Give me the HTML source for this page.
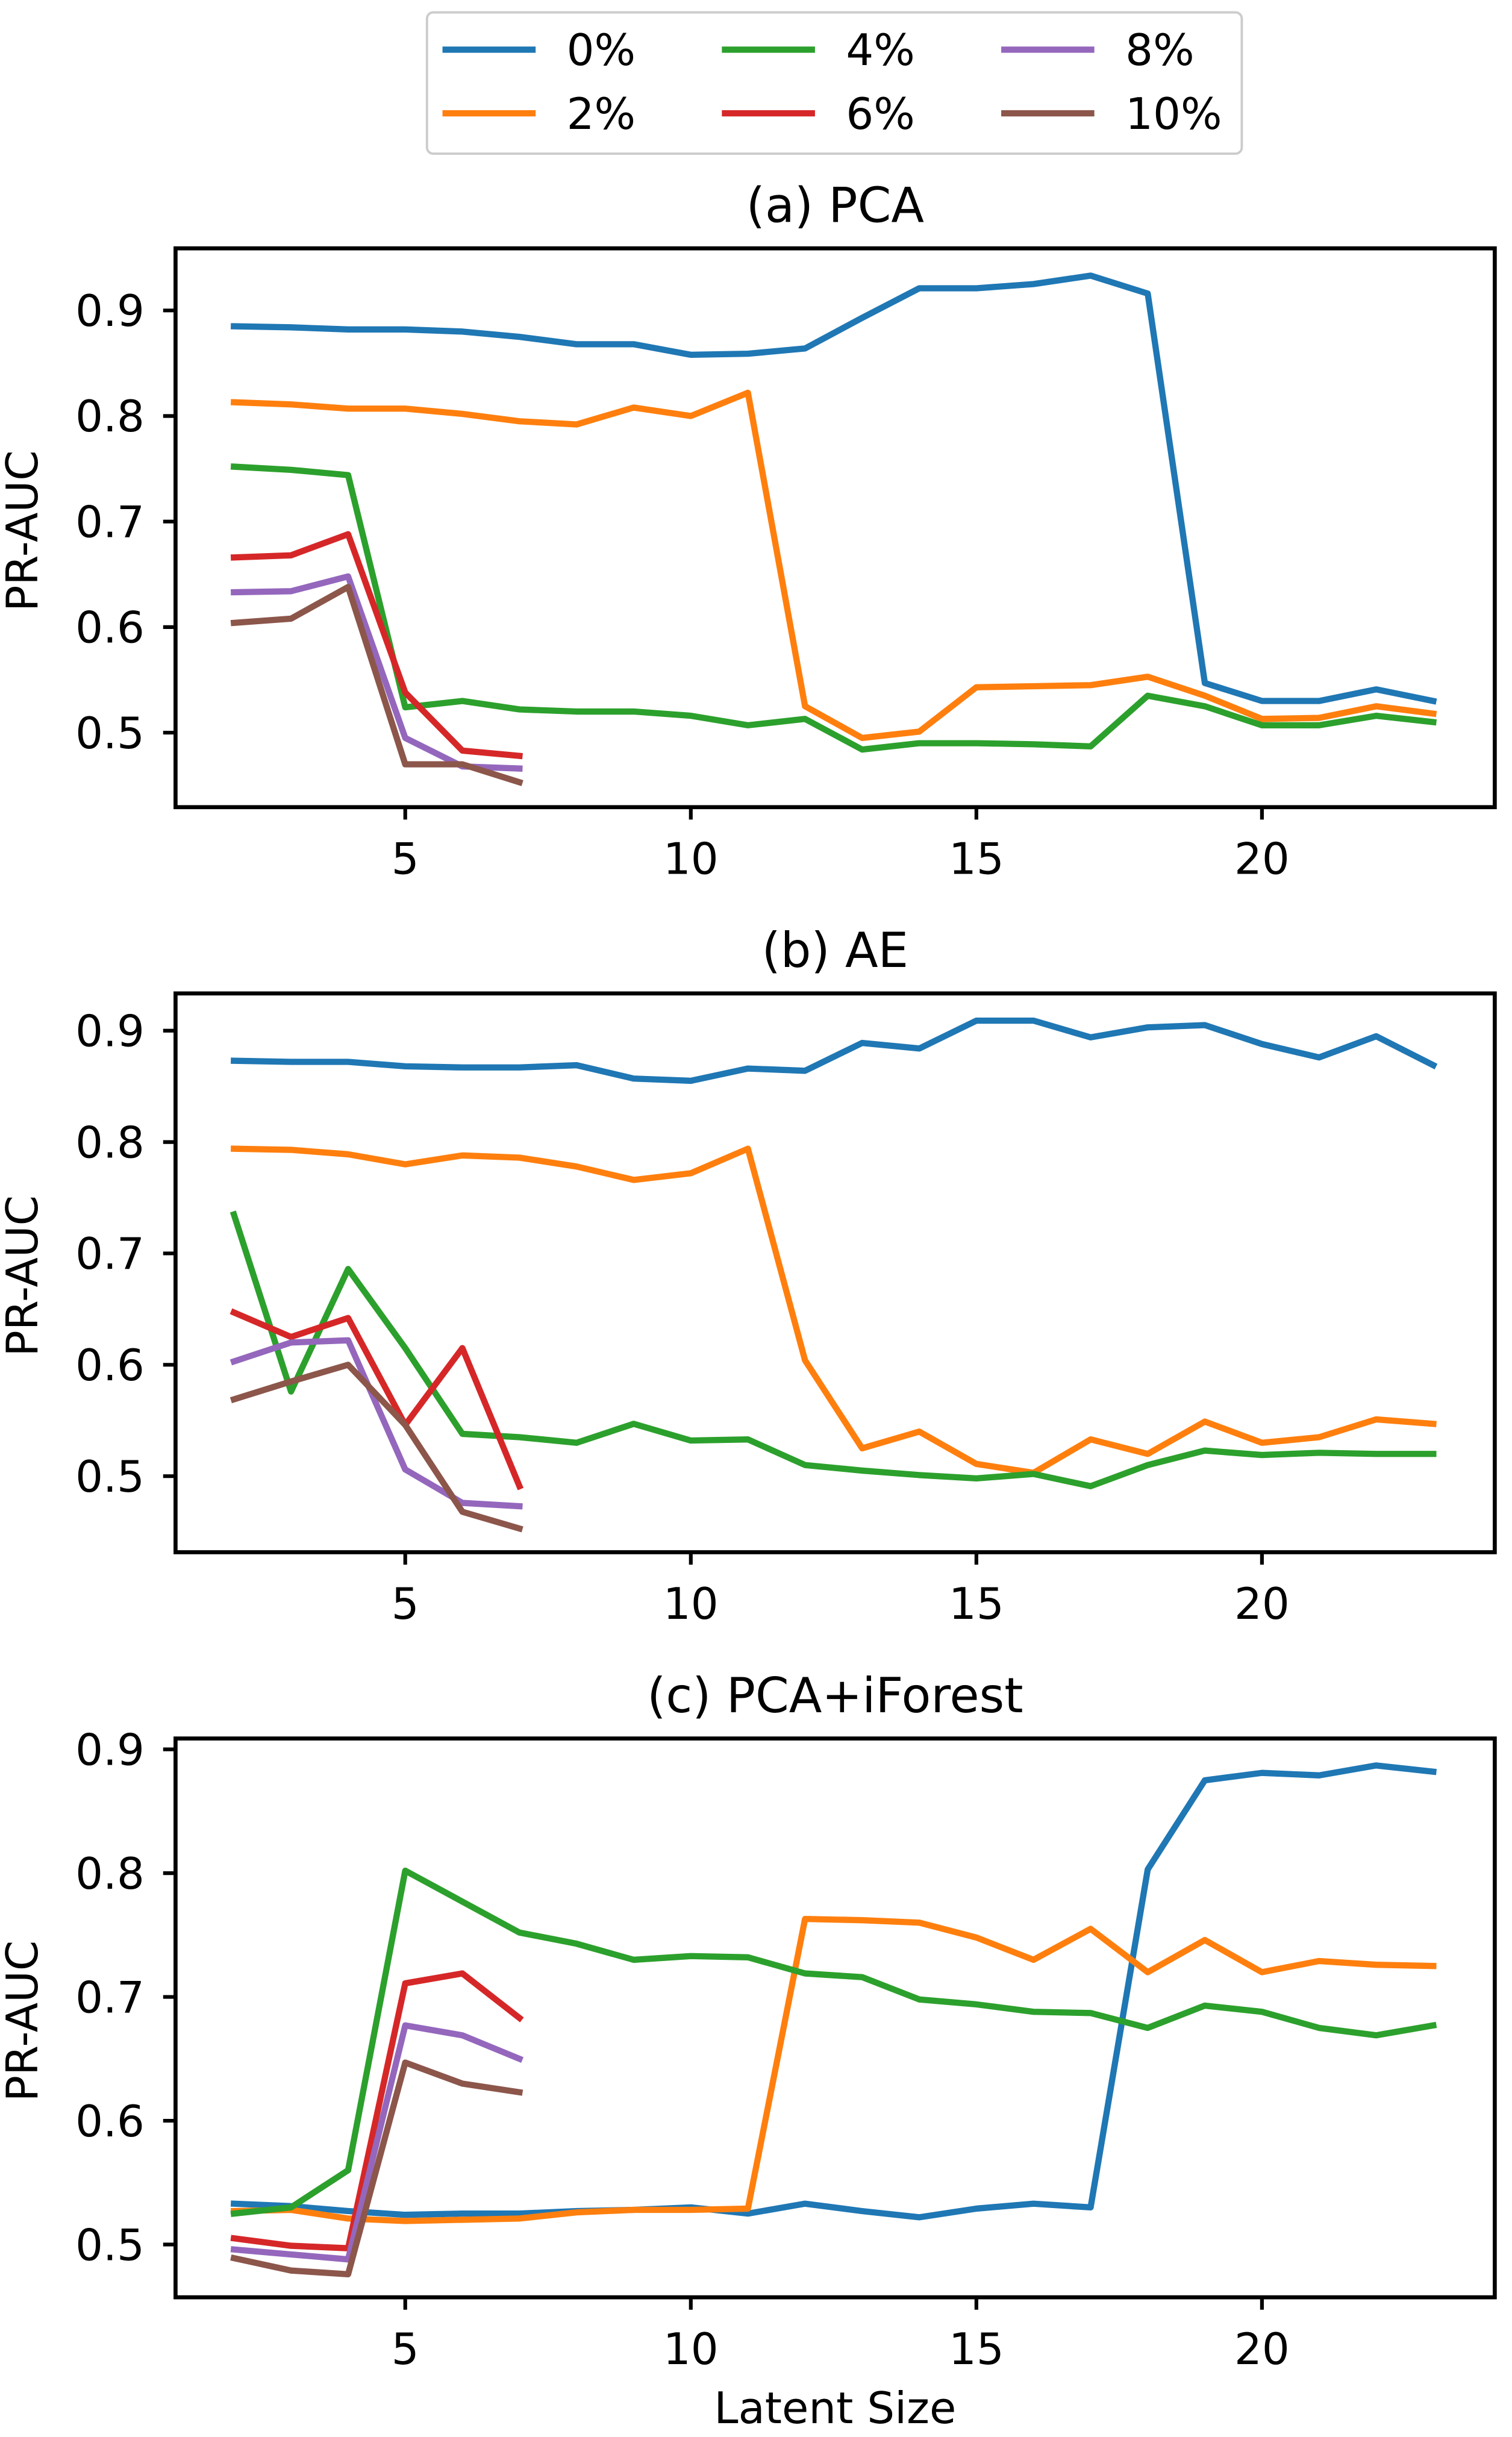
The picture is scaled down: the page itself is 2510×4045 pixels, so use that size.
<!DOCTYPE html>
<html><head><meta charset="utf-8"><style>html,body{margin:0;padding:0;background:#fff}svg{display:block}text{font-family:"DejaVu Sans","Liberation Sans",sans-serif;fill:#000}</style></head>
<body>
<svg id="chart" width="2510" height="4045" viewBox="0 0 974 1570" xmlns="http://www.w3.org/2000/svg"></svg>
<script>
const latentSizes=[2,3,4,5,6,7,8,9,10,11,12,13,14,15,16,17,18,19,20,21,22,23];
const seriesLabels=["0%","2%","4%","6%","8%","10%"];
const xTicks=[5,10,15,20];
const yTicks=[0.5,0.6,0.7,0.8,0.9];
const yTickLabels=["0.5","0.6","0.7","0.8","0.9"];
const pca0=[.885,.884,.882,.882,.880,.875,.868,.868,.858,.859,.864,.893,.921,.921,.925,.933,.916,.547,.530,.530,.541,.530];
const pca2=[.813,.811,.807,.807,.802,.795,.792,.808,.800,.822,.525,.495,.501,.543,.544,.545,.553,.535,.513,.514,.525,.518];
const pca4=[.752,.749,.744,.524,.530,.522,.520,.520,.516,.507,.513,.484,.490,.490,.489,.487,.535,.525,.507,.507,.516,.510];
const pca6=[.666,.668,.688,.538,.483,.478];
const pca8=[.633,.634,.648,.495,.468,.466];
const pca10=[.604,.608,.638,.470,.470,.453];
const ae0=[.873,.872,.872,.868,.867,.867,.869,.857,.855,.866,.864,.889,.884,.909,.909,.894,.903,.905,.888,.876,.895,.869];
const ae2=[.794,.793,.789,.780,.788,.786,.778,.766,.772,.794,.604,.525,.540,.511,.503,.533,.520,.549,.530,.535,.551,.547];
const ae4=[.735,.576,.686,.615,.538,.535,.530,.547,.532,.533,.510,.505,.501,.498,.502,.491,.510,.523,.519,.521,.520,.520];
const ae6=[.647,.625,.642,.546,.615,.491];
const ae8=[.603,.620,.622,.506,.476,.473];
const ae10=[.569,.585,.600,.546,.468,.453];
const pif0=[.533,.531,.527,.524,.525,.525,.527,.528,.530,.525,.533,.527,.522,.529,.533,.530,.803,.875,.881,.879,.887,.882];
const pif2=[.527,.528,.521,.519,.520,.521,.526,.528,.528,.529,.763,.762,.760,.748,.730,.755,.720,.746,.720,.729,.726,.725];
const pif4=[.525,.530,.560,.802,.777,.752,.743,.730,.733,.732,.719,.716,.698,.694,.688,.687,.675,.693,.688,.675,.669,.677];
const pif6=[.505,.499,.497,.711,.719,.683];
const pif8=[.496,.492,.488,.677,.669,.650];
const pif10=[.489,.479,.476,.647,.630,.623];

const colors=["#1f77b4","#ff7f0e","#2ca02c","#d62728","#9467bd","#8c564b"];
const NS="http://www.w3.org/2000/svg";
const svg=document.getElementById('chart');
function mk(tag,attrs,parent){const e=document.createElementNS(NS,tag);for(const k in attrs)e.setAttribute(k,attrs[k]);(parent||svg).appendChild(e);return e;}

const panels=[
 {title:"(a) PCA",key:"a",top:160,bottom:520,y9:200,y5:472,data:[pca0,pca2,pca4,pca6,pca8,pca10]},
 {title:"(b) AE",key:"b",top:640,bottom:1000,y9:664,y5:951,data:[ae0,ae2,ae4,ae6,ae8,ae10]},
 {title:"(c) PCA+iForest",key:"c",top:1120,bottom:1480,y9:1127,y5:1446,data:[pif0,pif2,pif4,pif6,pif8,pif10]}
];
const L=113,R=963;
const xs=v=>261+(v-5)*36.8;
panels.forEach(p=>{
  const g=mk('g',{});
  
  
  const ys=v=>p.y5+(v-0.5)/0.4*(p.y9-p.y5);
  const t=mk('text',{x:(L+R)/2,y:p.top-17,'text-anchor':'middle','font-size':31},g);t.textContent=p.title;
  
  p.data.forEach((arr,si)=>{
    const pts=arr.map((v,i)=>xs(latentSizes[i]).toFixed(2)+','+ys(v).toFixed(2)).join(' ');
    const pl=mk('polyline',{points:pts,fill:'none',stroke:colors[si],'stroke-width':4,'stroke-linejoin':'round','stroke-linecap':'square'},g);
    
    
  });
  const box=mk('rect',{x:L,y:p.top,width:R-L,height:p.bottom-p.top,fill:'none',stroke:'#000','stroke-width':2.6},g);
  
  xTicks.forEach(v=>{
    mk('line',{x1:xs(v),x2:xs(v),y1:p.bottom,y2:p.bottom+8,stroke:'#000','stroke-width':2.4},g);
    const tt=mk('text',{x:xs(v),y:p.bottom+43,'text-anchor':'middle','font-size':28},g);tt.textContent=v;
    
  });
  yTicks.forEach((v,i)=>{
    mk('line',{x1:L-8,x2:L,y1:ys(v),y2:ys(v),stroke:'#000','stroke-width':2.4},g);
    const tt=mk('text',{x:L-20,y:ys(v)+10,'text-anchor':'end','font-size':28},g);tt.textContent=yTickLabels[i];
    
  });
  const yl=mk('text',{x:0,y:0,'text-anchor':'middle','font-size':28,transform:`translate(24,${(p.top+p.bottom)/2+2}) rotate(-90)`},g);yl.textContent="PR-AUC";
  
});
const xl=mk('text',{x:538,y:1561,'text-anchor':'middle','font-size':28});xl.textContent="Latent Size";


const lg=mk('g',{});

mk('rect',{x:275,y:8,width:525,height:91,rx:4,fill:'#fff',stroke:'#ccc','stroke-width':1.5},lg);
const lx=[285,465,645],ly=[32,73];
seriesLabels.forEach((lab,i)=>{
  const c=Math.floor(i/2),r=i%2;
  const e=mk('g',{},lg);
  
  mk('line',{x1:lx[c],x2:lx[c]+60,y1:ly[r],y2:ly[r],stroke:colors[i],'stroke-width':4},e);
  const t=mk('text',{x:lx[c]+80,y:ly[r]+10,'font-size':28},e);t.textContent=lab;
});
</script>
</body></html>
